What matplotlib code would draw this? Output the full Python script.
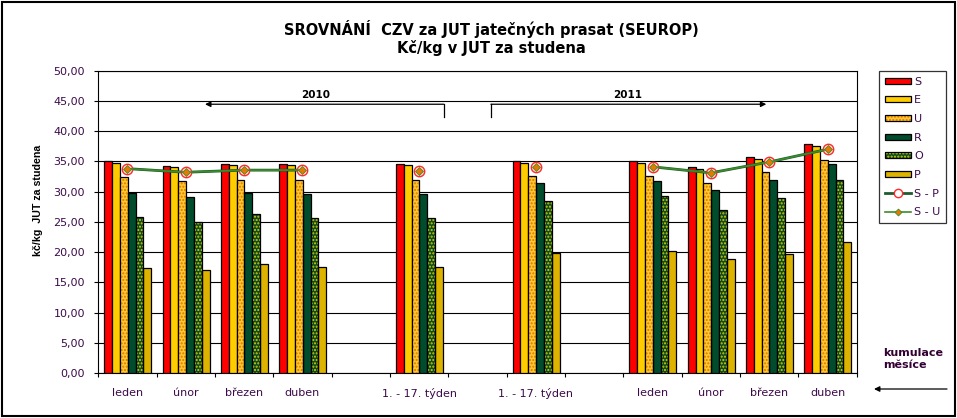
import numpy as np
import matplotlib.pyplot as plt
from matplotlib.patches import Patch, Rectangle
from matplotlib.lines import Line2D
from matplotlib.legend_handler import HandlerTuple

nan = np.nan

# categories on the x axis (empty ones are spacers between blocks)
categories = ['leden', 'únor', 'březen', 'duben', '', '1. - 17. týden', '',
              '1. - 17. týden', '', 'leden', 'únor', 'březen', 'duben']

# prices Kč/kg JUT
S = [35.0, 34.2, 34.55, 34.55, nan, 34.5, nan, 35.05, nan, 35.0, 34.0, 35.65, 37.8]
E = [34.65, 34.0, 34.4, 34.4, nan, 34.4, nan, 34.65, nan, 34.65, 33.8, 35.4, 37.6]
U = [32.35, 31.7, 32.0, 31.85, nan, 32.0, nan, 32.5, nan, 32.5, 31.5, 33.2, 35.3]
R = [29.8, 29.1, 29.8, 29.6, nan, 29.6, nan, 31.35, nan, 31.7, 30.2, 32.0, 34.5]
O = [25.8, 24.9, 26.3, 25.6, nan, 25.7, nan, 28.4, nan, 29.2, 26.9, 28.9, 31.85]
P = [17.35, 17.0, 17.95, 17.6, nan, 17.6, nan, 19.8, nan, 20.1, 18.8, 19.6, 21.6]
S_P = [33.8, 33.2, 33.55, 33.55, nan, 33.45, nan, 34.1, nan, 34.1, 33.1, 34.9, 37.0]
S_U = [33.8, 33.2, 33.55, 33.55, nan, 33.45, nan, 34.1, nan, 34.1, 33.1, 34.9, 37.0]

bar_names = ['S', 'E', 'U', 'R', 'O', 'P']
bar_values = [S, E, U, R, O, P]
# (face colour, hatch, hatch colour)
bar_styles = [('#FF0000', None, None),
              ('#FFCC00', None, None),
              ('#FFC830', '.....', '#E07800'),
              ('#004C2C', None, None),
              ('#0E4A22', '.....', '#D8D000'),
              ('#DDB300', None, None)]

txt_color = '#3C0A4A'

fig = plt.figure(figsize=(9.57, 4.18), dpi=100)
ax = fig.add_axes([0.1027, 0.1077, 0.7925, 0.7232])

x = np.arange(len(categories))
bar_w = 0.134
legend_handles = []
for i, (vals, (face, hatch, hcol)) in enumerate(zip(bar_values, bar_styles)):
    pos = x + 0.103 + i * bar_w
    if hatch:
        ax.bar(pos, vals, width=bar_w, align='edge', color=face, edgecolor=hcol,
               hatch=hatch, linewidth=0, zorder=3)
        ax.bar(pos, vals, width=bar_w, align='edge', color='none',
               edgecolor='black', linewidth=0.9, zorder=4)
        h = (Patch(facecolor=face, edgecolor=hcol, hatch=hatch, linewidth=0),
             Patch(facecolor='none', edgecolor='black', linewidth=0.9))
    else:
        ax.bar(pos, vals, width=bar_w, align='edge', color=face,
               edgecolor='black', linewidth=0.9, zorder=3)
        h = Patch(facecolor=face, edgecolor='black', linewidth=0.9)
    legend_handles.append(h)

# the two comparison lines, drawn at category centres
ax.plot(x + 0.5, S_P, color='#1E5C30', lw=2, marker='o', ms=7.5,
        mfc='#FFE4DC', mec='#FF2A2A', mew=1, zorder=6)
ax.plot(x + 0.5, S_U, color='#3C8C28', lw=1.2, marker='D', ms=4,
        mfc='#E87800', mec='#3C8C28', mew=0.6, zorder=7)
legend_handles.append(Line2D([], [], color='#1E5C30', lw=2, marker='o', ms=6,
                             mfc='white', mec='#FF2A2A', mew=1))
legend_handles.append(Line2D([], [], color='#3C8C28', lw=1.2, marker='D', ms=3.5,
                             mfc='#E87800', mec='#3C8C28', mew=0.6))

ax.set_xlim(0, len(categories))
ax.set_ylim(0, 50)
yt = np.arange(0, 51, 5)
ax.set_yticks(yt)
ax.set_yticklabels([f'{v:.2f}'.replace('.', ',') for v in yt])
ax.set_xticks(x + 0.5)
ax.set_xticklabels(categories)
ax.set_xticks(np.arange(len(categories) + 1), minor=True)
ax.tick_params(axis='x', which='major', length=0, pad=10.5, labelsize=8,
               labelcolor=txt_color)
ax.tick_params(axis='x', which='minor', length=3, width=0.8, direction='out')
ax.tick_params(axis='y', length=3, width=0.8, pad=6.5, labelsize=8,
               labelcolor=txt_color)
ax.yaxis.grid(True, color='black', lw=0.8)
ax.set_axisbelow(True)
for sp in ax.spines.values():
    sp.set_linewidth(0.8)

ax.set_ylabel('kč/kg  JUT za studena', fontsize=7.7, fontweight='bold',
              family='Liberation Sans')
ax.yaxis.set_label_coords(-0.073, 0.57)

# year markers above the bars
y_arrow, y_drop, y_year = 44.45, 42.3, 46.0
ax.annotate('', xy=(1.83, y_arrow), xytext=(5.92, y_arrow),
            arrowprops=dict(arrowstyle='-|>', color='black', lw=0.9,
                            mutation_scale=8, shrinkA=0, shrinkB=0))
ax.plot([5.92, 5.92], [y_arrow, y_drop], color='black', lw=0.9)
ax.annotate('', xy=(11.45, y_arrow), xytext=(6.73, y_arrow),
            arrowprops=dict(arrowstyle='-|>', color='black', lw=0.9,
                            mutation_scale=8, shrinkA=0, shrinkB=0))
ax.plot([6.73, 6.73], [y_arrow, y_drop], color='black', lw=0.9)
ax.text(3.73, y_year, '2010', ha='center', va='center', fontsize=7.5,
        fontweight='bold')
ax.text(9.08, y_year, '2011', ha='center', va='center', fontsize=7.5,
        fontweight='bold')

fig.text(0.513, 1 - 29 / 418, 'SROVNÁNÍ  CZV za JUT jatečných prasat (SEUROP)',
         ha='center', va='center', fontsize=10.5, fontweight='bold')
fig.text(0.513, 1 - 48 / 418, 'Kč/kg v JUT za studena',
         ha='center', va='center', fontsize=10.5, fontweight='bold')

leg = fig.legend(legend_handles, bar_names + ['S - P', 'S - U'],
                 loc='upper left', bbox_to_anchor=(879 / 957, 1 - 71 / 418),
                 borderaxespad=0, fontsize=8, frameon=True, fancybox=False,
                 edgecolor='black', handlelength=2.4, handleheight=0.45,
                 handletextpad=0.25, labelspacing=0.78, borderpad=0.5,
                 handler_map={tuple: HandlerTuple(ndivide=1, pad=0)})
leg.get_frame().set_linewidth(0.9)
for t in leg.get_texts():
    t.set_color(txt_color)

fig.text(883 / 957, 1 - 359 / 418, 'kumulace\nměsíce', ha='left', va='center',
         fontsize=8, fontweight='bold', color='#330033', linespacing=1.2)
ax.annotate('', xy=(874 / 957, 1 - 389 / 418), xycoords='figure fraction',
            xytext=(947 / 957, 1 - 389 / 418), textcoords='figure fraction',
            arrowprops=dict(arrowstyle='-|>', color='black', lw=0.9,
                            mutation_scale=8, shrinkA=0, shrinkB=0),
            annotation_clip=False)

fig.patches.append(Rectangle((1.5 / 957, 2 / 418), 953.5 / 957, 414 / 418,
                             transform=fig.transFigure, fill=False,
                             edgecolor='black', lw=1.5))

fig.savefig('out.png', dpi=100)
